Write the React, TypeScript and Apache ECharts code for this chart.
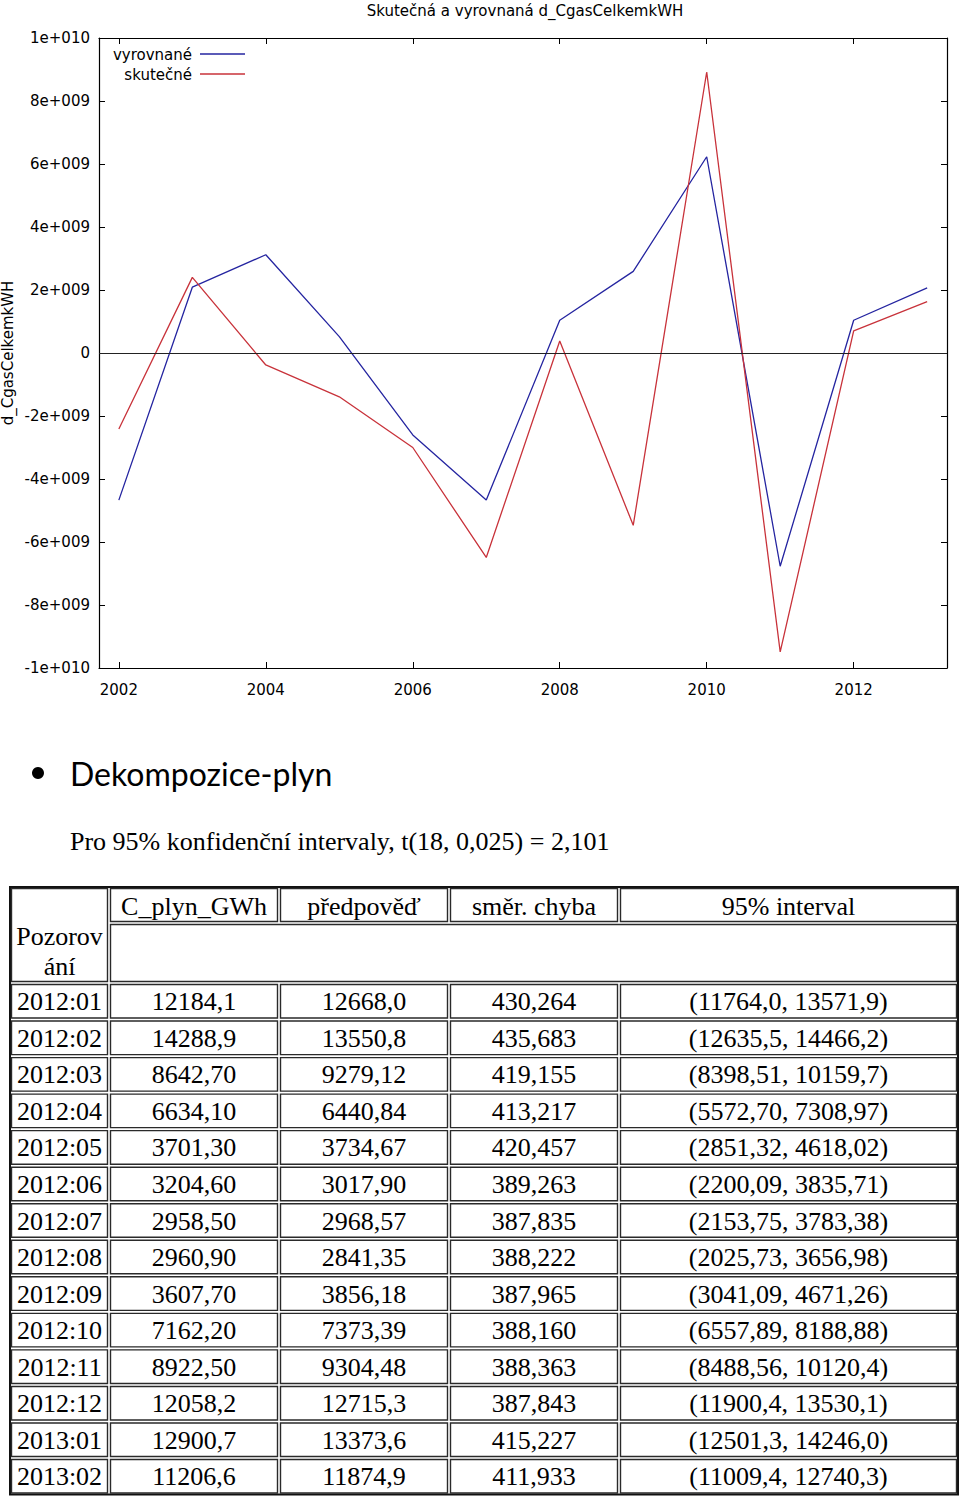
import React, { useEffect, useRef } from "react";
import * as echarts from "echarts";

// ---- chart data ----
const years = [2002, 2003, 2004, 2005, 2006, 2007, 2008, 2009, 2010, 2011, 2012, 2013];
const vyrovnane = [-4.67e9, 2.09e9, 3.12e9, 0.52e9, -2.6e9, -4.67e9, 1.04e9, 2.59e9, 6.23e9, -6.77e9, 1.04e9, 2.07e9];
const skutecne = [-2.41e9, 2.4e9, -0.38e9, -1.39e9, -3.0e9, -6.49e9, 0.38e9, -5.47e9, 8.92e9, -9.49e9, 0.7e9, 1.63e9];
const xTickValues = [2002, 2004, 2006, 2008, 2010, 2012];
const yTickLabels = ["-1e+010", "-8e+009", "-6e+009", "-4e+009", "-2e+009", "0", "2e+009", "4e+009", "6e+009", "8e+009", "1e+010"];
const chartTitle = "Skutečná a vyrovnaná d_CgasCelkemkWH";
const yAxisTitle = "d_CgasCelkemkWH";
const seriesNames = ["vyrovnané", "skutečné"];

// ---- text / table data ----
const bulletText = "Dekompozice-plyn";
const noteText = "Pro 95% konfidenční intervaly, t(18, 0,025) = 2,101";
const obsHeader = ["Pozorov", "ání"];
const tableHeader = ["C_plyn_GWh", "předpověď", "směr. chyba", "95% interval"];
const observations = ["2012:01", "2012:02", "2012:03", "2012:04", "2012:05", "2012:06", "2012:07", "2012:08", "2012:09", "2012:10", "2012:11", "2012:12", "2013:01", "2013:02"];
const actualValues = ["12184,1", "14288,9", "8642,70", "6634,10", "3701,30", "3204,60", "2958,50", "2960,90", "3607,70", "7162,20", "8922,50", "12058,2", "12900,7", "11206,6"];
const forecasts = ["12668,0", "13550,8", "9279,12", "6440,84", "3734,67", "3017,90", "2968,57", "2841,35", "3856,18", "7373,39", "9304,48", "12715,3", "13373,6", "11874,9"];
const stdErrors = ["430,264", "435,683", "419,155", "413,217", "420,457", "389,263", "387,835", "388,222", "387,965", "388,160", "388,363", "387,843", "415,227", "411,933"];
const intervals = ["(11764,0, 13571,9)", "(12635,5, 14466,2)", "(8398,51, 10159,7)", "(5572,70, 7308,97)", "(2851,32, 4618,02)", "(2200,09, 3835,71)", "(2153,75, 3783,38)", "(2025,73, 3656,98)", "(3041,09, 4671,26)", "(6557,89, 8188,88)", "(8488,56, 10120,4)", "(11900,4, 13530,1)", "(12501,3, 14246,0)", "(11009,4, 12740,3)"];

const BLUE = "#2424a0";
const RED = "#c8323a";
const SANS = "DejaVu Sans";
const SERIF = "Liberation Serif";

function buildTable(): any[] {
  const els: any[] = [];
  const colB = [10, 109, 279, 449, 619, 958];
  const top = 887;
  const h1 = 923;
  const h2 = 983;
  const pitch = 36.54;
  const bottom = h2 + observations.length * pitch;
  const cellStyle = { fill: "none", stroke: "#2a2a2a", lineWidth: 1.4 };
  const cell = (x0: number, y0: number, x1: number, y1: number) => {
    els.push({ type: "rect", shape: { x: x0 + 1.5, y: y0 + 1.5, width: x1 - x0 - 3, height: y1 - y0 - 3 }, style: cellStyle, silent: true });
  };
  const txt = (s: string, x: number, y: number) => {
    els.push({ type: "text", x, y, style: { text: s, font: `26px '${SERIF}'`, fill: "#000", textAlign: "center", textVerticalAlign: "middle" }, silent: true });
  };
  // outer border
  els.push({ type: "rect", shape: { x: colB[0], y: top, width: colB[5] - colB[0], height: bottom - top }, style: { fill: "none", stroke: "#111", lineWidth: 2 }, silent: true });
  // header
  cell(colB[0], top, colB[1], h2);
  txt(obsHeader[0], (colB[0] + colB[1]) / 2, 936);
  txt(obsHeader[1], (colB[0] + colB[1]) / 2, 966);
  for (let c = 1; c < 5; c++) {
    cell(colB[c], top, colB[c + 1], h1);
    txt(tableHeader[c - 1], (colB[c] + colB[c + 1]) / 2, 906);
  }
  cell(colB[1], h1, colB[5], h2);
  // rows
  const cols = [observations, actualValues, forecasts, stdErrors, intervals];
  for (let r = 0; r < observations.length; r++) {
    const y0 = h2 + r * pitch;
    const y1 = y0 + pitch;
    for (let c = 0; c < 5; c++) {
      cell(colB[c], y0, colB[c + 1], y1);
      txt(cols[c][r], (colB[c] + colB[c + 1]) / 2, (y0 + y1) / 2 + 0.5);
    }
  }
  return els;
}

export default function App() {
  const ref = useRef<HTMLDivElement>(null);
  useEffect(() => {
    document.body.style.margin = "0";
    if (!ref.current) return;
    const chart = echarts.init(ref.current, undefined, { renderer: "svg" });
    const axisLine = { show: true, onZero: false, lineStyle: { color: "#000", width: 1.2 } };
    const tick = { show: true, inside: true, length: 6, lineStyle: { color: "#000", width: 1 } };
    const xMin = 2001.73;
    const xMax = 2013.27;
    const option: any = {
      animation: false,
      textStyle: { fontFamily: SANS },
      grid: { left: 99, top: 38, width: 848, height: 630 },
      xAxis: [
        {
          type: "value", position: "bottom", min: xMin, max: xMax,
          axisLine, axisTick: { ...tick, customValues: xTickValues },
          axisLabel: { customValues: xTickValues, color: "#000", fontSize: 15, margin: 14, fontFamily: SANS, formatter: (v: number) => String(v) },
          splitLine: { show: false },
        },
        {
          type: "value", position: "top", min: xMin, max: xMax,
          axisLine, axisTick: { ...tick, customValues: xTickValues },
          axisLabel: { show: false }, splitLine: { show: false },
        },
      ],
      yAxis: [
        {
          type: "value", position: "left", min: -1e10, max: 1e10, interval: 2e9,
          axisLine, axisTick: tick,
          axisLabel: {
            color: "#000", fontSize: 15, margin: 9, fontFamily: SANS,
            formatter: (v: number) => yTickLabels[Math.round((v + 1e10) / 2e9)],
          },
          splitLine: { show: false },
        },
        {
          type: "value", position: "right", min: -1e10, max: 1e10, interval: 2e9,
          axisLine, axisTick: tick, axisLabel: { show: false }, splitLine: { show: false },
        },
      ],
      series: [
        {
          name: seriesNames[0], type: "line", xAxisIndex: 0, yAxisIndex: 0,
          data: years.map((y, i) => [y, vyrovnane[i]]),
          showSymbol: false, symbol: "none",
          lineStyle: { color: BLUE, width: 1.3 }, itemStyle: { color: BLUE },
          markLine: {
            silent: true, symbol: "none", label: { show: false },
            lineStyle: { color: "#222", width: 1.2, type: "solid" },
            data: [{ yAxis: 0 }],
          },
        },
        {
          name: seriesNames[1], type: "line", xAxisIndex: 0, yAxisIndex: 0,
          data: years.map((y, i) => [y, skutecne[i]]),
          showSymbol: false, symbol: "none",
          lineStyle: { color: RED, width: 1.3 }, itemStyle: { color: RED },
        },
      ],
      graphic: {
        elements: [
          { type: "text", x: 525, y: 11, style: { text: chartTitle, font: `15px '${SANS}'`, fill: "#000", textAlign: "center", textVerticalAlign: "middle" }, silent: true },
          { type: "text", x: 8, y: 353, rotation: Math.PI / 2, style: { text: yAxisTitle, font: `15px '${SANS}'`, fill: "#000", textAlign: "center", textVerticalAlign: "middle" }, silent: true },
          { type: "text", x: 192, y: 55, style: { text: seriesNames[0], font: `15px '${SANS}'`, fill: "#000", textAlign: "right", textVerticalAlign: "middle" }, silent: true },
          { type: "text", x: 192, y: 75, style: { text: seriesNames[1], font: `15px '${SANS}'`, fill: "#000", textAlign: "right", textVerticalAlign: "middle" }, silent: true },
          { type: "line", shape: { x1: 200, y1: 54, x2: 245, y2: 54 }, style: { stroke: BLUE, lineWidth: 1.3 }, silent: true },
          { type: "line", shape: { x1: 200, y1: 74, x2: 245, y2: 74 }, style: { stroke: RED, lineWidth: 1.3 }, silent: true },
          { type: "circle", shape: { cx: 38, cy: 773, r: 6 }, style: { fill: "#000" }, silent: true },
          { type: "text", x: 70, y: 773, style: { text: bulletText, font: `32px 'Lato'`, fill: "#000", textAlign: "left", textVerticalAlign: "middle" }, silent: true },
          { type: "text", x: 70, y: 841, style: { text: noteText, font: `26px '${SERIF}'`, fill: "#000", textAlign: "left", textVerticalAlign: "middle" }, silent: true },
          ...buildTable(),
        ],
      },
    };
    chart.setOption(option);
    return () => chart.dispose();
  }, []);
  return <div ref={ref} style={{ width: 960, height: 1498 }} />;
}
